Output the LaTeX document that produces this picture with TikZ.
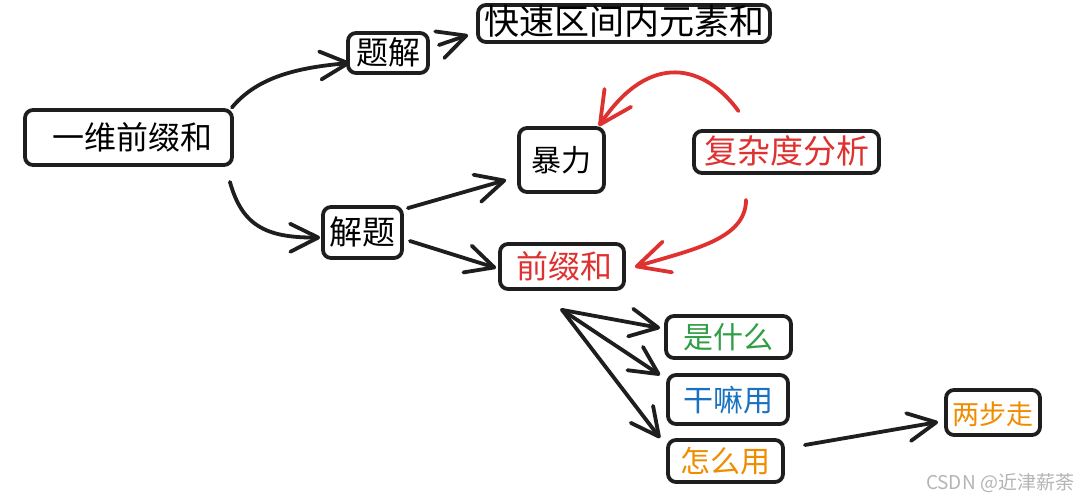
\documentclass[tikz,border=0pt]{standalone}
\usepackage{fontspec}
\newfontfamily\cjk{Noto Sans CJK SC}
\usetikzlibrary{arrows.meta}
\definecolor{ink}{HTML}{1E1E1E}
\definecolor{xred}{HTML}{E03131}
\definecolor{xgreen}{HTML}{2F9E44}
\definecolor{xblue}{HTML}{1971C2}
\definecolor{xorange}{HTML}{F08C00}
\definecolor{wm}{HTML}{B4B4B4}
\tikzset{
  box/.style={draw=ink, line width=3.8pt, rounded corners=8pt, fill=white, inner sep=0pt,
    text height=24pt, text depth=1pt, align=center},
  fs/.style={font=\cjk\fontsize{#1}{#1}\selectfont},
  conn/.style={draw=ink, line width=3.8pt, line cap=round, line join=round,
    -{Straight Barb[length=28pt,width=28pt,line cap=round,line join=round]}},
  rconn/.style={conn, draw=xred, -{Straight Barb[length=32pt,width=32pt,line cap=round,line join=round]}}
}
\begin{document}
\begin{tikzpicture}[x=1pt,y=-1pt]
\useasboundingbox[fill=white] (0,0) rectangle (1086,500);
% nodes
\node[box, fs=32, minimum width=207pt, minimum height=55pt] (yw) at (128.5,137.5) {\hspace*{8pt}一维前缀和};
\node[box, fs=32, minimum width=80pt, minimum height=40pt] (tj) at (388,53) {题解};
\node[box, fs=35, minimum width=292pt, minimum height=37pt] (ks) at (624,23.5) {快速区间内元素和};
\node[box, fs=30, minimum width=85pt, minimum height=64pt] (bl) at (561.5,160) {暴力};
\node[box, fs=33, text=xred, minimum width=185pt, minimum height=42pt] (fz) at (786.5,152) {复杂度分析};
\node[box, fs=33, minimum width=79pt, minimum height=51pt] (jt) at (362.5,232.5) {解题};
\node[box, fs=32, text=xred, minimum width=124pt, minimum height=45pt] (qz) at (562,266.5) {\hspace*{4pt}前缀和};
\node[box, fs=30, text=xgreen, minimum width=125pt, minimum height=42pt] (sm) at (728.5,337) {是什么};
\node[box, fs=30, text=xblue, minimum width=120pt, minimum height=49pt] (gm) at (728,399.5) {干嘛用};
\node[box, fs=30, text=xorange, minimum width=115pt, minimum height=42pt] (zm) at (725.5,461) {怎么用};
\node[box, fs=27, text=xorange, minimum width=94pt, minimum height=45pt] (lb) at (993,412.5) {两步走};
\node[fs=19, text=wm, inner sep=0pt] (wmk) at (1000,483) {CSDN @近津薪荼};
% connectors
\draw[conn] ([shift={(-2,-30)}]yw.east) .. controls (255,80) and (290,68) .. ([shift={(4,10)}]tj.west);
\draw[conn] ([shift={(9,-8)}]tj.east) -- ([shift={(-8,11.5)}]ks.west);
\draw[conn] ([shift={(-4,15)}]yw.south east) .. controls (242,225) and (265,238) .. ([shift={(-1,5)}]jt.west);
\draw[conn] ([shift={(4,3)}]jt.north east) -- ([shift={(-11,20)}]bl.west);
\draw[conn] ([shift={(6,8.5)}]jt.east) -- ([shift={(-2,1.5)}]qz.west);
\draw[rconn] ([shift={(-48,-18)}]fz.north) .. controls (705,65) and (650,50) .. ([shift={(-7,0)}]bl.north east);
\draw[rconn] ([shift={(-40.5,25)}]fz.south) .. controls (746,240) and (690,250) .. ([shift={(9,0.5)}]qz.east);
\coordinate (fan) at ([shift={(0,19)}]qz.south);
\draw[conn] (fan) -- ([shift={(-4,-9)}]sm.west);
\draw[conn] (fan) -- ([shift={(-6,2)}]gm.north west);
\draw[conn] (fan) -- ([shift={(-6,0)}]zm.north west);
\draw[conn] ([shift={(20,-16)}]zm.east) -- ([shift={(-6,9.5)}]lb.west);
\end{tikzpicture}
\end{document}
